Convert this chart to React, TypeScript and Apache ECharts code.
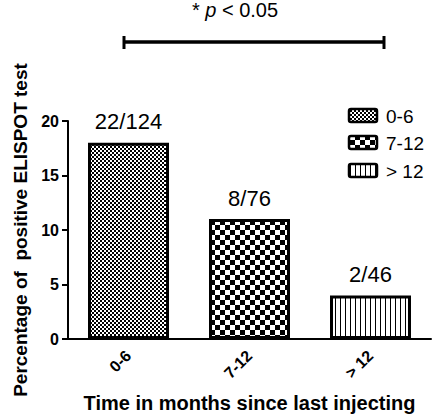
import React, { useEffect, useRef } from "react";
import * as echarts from "echarts";

const categories = ["0-6", "7-12", "> 12"];
const percentages = [18, 11, 4];
const fractions = ["22/124", "8/76", "2/46"];
const yTicks = { min: 0, max: 20, interval: 5 };
const legendNames = ["0-6", "7-12", "> 12"];
const significance = "p < 0.05";

const FONT = "'Liberation Sans', Arial, Helvetica, sans-serif";

function makePattern(kind: string) {
  const c = document.createElement("canvas");
  const ctx = c.getContext("2d")!;
  if (kind === "fine") {
    c.width = 4; c.height = 4;
    ctx.fillStyle = "#fff"; ctx.fillRect(0, 0, 4, 4);
    ctx.fillStyle = "#000"; ctx.fillRect(0, 0, 2, 2); ctx.fillRect(2, 2, 2, 2);
  } else if (kind === "coarse") {
    c.width = 10; c.height = 10;
    ctx.fillStyle = "#fff"; ctx.fillRect(0, 0, 10, 10);
    ctx.fillStyle = "#000"; ctx.fillRect(0, 0, 5, 5); ctx.fillRect(5, 5, 5, 5);
  } else {
    c.width = 5; c.height = 5;
    ctx.fillStyle = "#fff"; ctx.fillRect(0, 0, 5, 5);
    ctx.fillStyle = "#000"; ctx.fillRect(0, 0, 1, 5);
  }
  return { image: c, repeat: "repeat", imageWidth: c.width, imageHeight: c.height } as any;
}

export default function App() {
  const ref = useRef<HTMLDivElement>(null);
  useEffect(() => {
    if (!ref.current) return;
    const chart = echarts.init(ref.current, null, { renderer: "svg" });
    const patterns = [makePattern("fine"), makePattern("coarse"), makePattern("stripes")];

    const legendGraphics: any[] = [];
    const legendY = [109, 136, 164];
    legendNames.forEach((n, i) => {
      legendGraphics.push({
        type: "rect",
        shape: { x: 349, y: legendY[i], width: 28, height: 13, r: 2 },
        style: { fill: patterns[i], stroke: "#000", lineWidth: 2.5 },
      });
      legendGraphics.push({
        type: "text",
        x: 386,
        y: legendY[i] + 7,
        style: { text: n, font: `19px ${FONT}`, fill: "#000", verticalAlign: "middle" },
      });
    });

    chart.setOption({
      animation: false,
      backgroundColor: "#fff",
      grid: { left: 68, right: 2, top: 121, bottom: 75, containLabel: false },
      xAxis: {
        type: "category",
        data: categories,
        name: "Time in months since last injecting",
        nameLocation: "middle",
        nameGap: 54,
        nameTextStyle: { fontFamily: FONT, fontWeight: "bold", fontSize: 20, color: "#000" },
        axisLine: { lineStyle: { color: "#000", width: 2 } },
        axisTick: { alignWithLabel: true, length: 7, lineStyle: { color: "#000", width: 2 } },
        axisLabel: { rotate: 45, margin: 14, fontFamily: FONT, fontWeight: "bold", fontSize: 16, color: "#000" },
      },
      yAxis: {
        type: "value",
        min: yTicks.min,
        max: yTicks.max,
        interval: yTicks.interval,
        name: "Percentage of  positive ELISPOT test",
        nameLocation: "middle",
        nameGap: 36,
        nameRotate: 90,
        nameTextStyle: { fontFamily: FONT, fontWeight: "bold", fontSize: 19, color: "#000" },
        axisLine: { show: true, lineStyle: { color: "#000", width: 2 } },
        axisTick: { show: true, length: 6, lineStyle: { color: "#000", width: 2 } },
        axisLabel: { margin: 9, fontFamily: FONT, fontWeight: "bold", fontSize: 16, color: "#000" },
        splitLine: { show: false },
      },
      series: [
        {
          type: "bar",
          barWidth: 81,
          data: percentages.map((v, i) => ({
            value: v,
            itemStyle: { color: patterns[i], borderColor: "#000", borderWidth: 3 },
          })),
          label: {
            show: true,
            position: "top",
            distance: 10,
            formatter: (p: any) => fractions[p.dataIndex],
            fontFamily: FONT,
            fontSize: 22,
            color: "#000",
          },
        },
      ],
      graphic: [
        {
          type: "text",
          x: 235,
          y: 10,
          style: {
            text: `{a|* }{b|${significance.split(" ")[0]}}{a| ${significance.split(" ").slice(1).join(" ")}}`,
            align: "center",
            verticalAlign: "middle",
            rich: {
              a: { font: `20px ${FONT}`, fill: "#000" },
              b: { font: `italic 20px ${FONT}`, fill: "#000" },
            },
          },
        },
        { type: "line", shape: { x1: 124, y1: 42, x2: 384, y2: 42 }, style: { stroke: "#000", lineWidth: 3.5 } },
        { type: "line", shape: { x1: 124, y1: 36, x2: 124, y2: 49 }, style: { stroke: "#000", lineWidth: 3 } },
        { type: "line", shape: { x1: 384, y1: 36, x2: 384, y2: 49 }, style: { stroke: "#000", lineWidth: 3 } },
        ...legendGraphics,
      ],
    });
    return () => chart.dispose();
  }, []);
  return <div ref={ref} style={{ width: 433, height: 418, position: "absolute", left: 0, top: 0 }} />;
}
